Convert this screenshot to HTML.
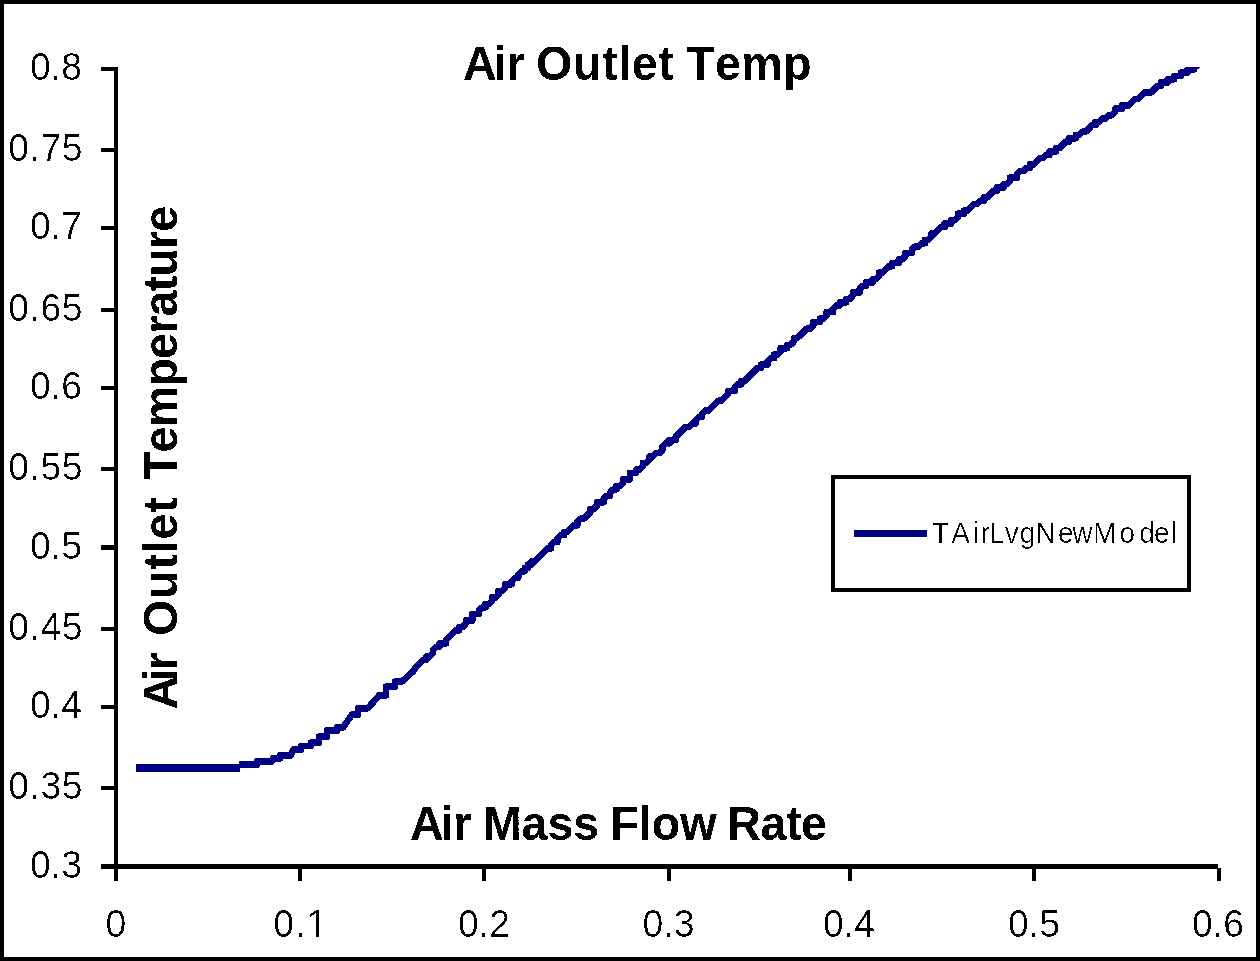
<!DOCTYPE html>
<html lang="en">
<head>
<meta charset="utf-8">
<title>Air Outlet Temp</title>
<style>
html,body{margin:0;padding:0;background:#fff;}
body{width:1260px;height:961px;overflow:hidden;}
svg{display:block;}
.txt{font-kerning:none;}
</style>
</head>
<body>
<svg width="1260" height="961" viewBox="0 0 1260 961">
<rect x="0" y="0" width="1260" height="961" fill="#fff"/>
<g shape-rendering="crispEdges" fill="#000">
<rect x="0" y="0" width="1260" height="4"/><rect x="0" y="957" width="1260" height="4"/>
<rect x="0" y="0" width="4" height="961"/><rect x="1256" y="0" width="4" height="961"/>
<rect x="114" y="67" width="4" height="814"/>
<rect x="101" y="864" width="1117" height="5"/>
<rect x="101" y="67" width="14" height="4"/>
<rect x="101" y="148" width="14" height="4"/>
<rect x="101" y="226" width="14" height="4"/>
<rect x="101" y="308" width="14" height="4"/>
<rect x="101" y="386" width="14" height="4"/>
<rect x="101" y="467" width="14" height="4"/>
<rect x="101" y="545" width="14" height="5"/>
<rect x="101" y="627" width="14" height="4"/>
<rect x="101" y="705" width="14" height="4"/>
<rect x="101" y="786" width="14" height="4"/>
<rect x="298" y="864" width="4" height="17"/>
<rect x="482" y="864" width="4" height="17"/>
<rect x="667" y="864" width="4" height="17"/>
<rect x="848" y="864" width="4" height="17"/>
<rect x="1032" y="864" width="4" height="17"/>
<rect x="1217" y="868" width="4" height="13"/>
<rect x="831" y="475" width="360" height="4"/><rect x="831" y="588" width="360" height="4"/>
<rect x="831" y="475" width="4" height="117"/><rect x="1187" y="475" width="4" height="117"/>
</g>
<rect x="854" y="530" width="73" height="7" fill="#000080" shape-rendering="crispEdges"/>
<rect x="136" y="764" width="104" height="8" fill="#000080" shape-rendering="crispEdges"/>
<defs><filter id="bw" filterUnits="userSpaceOnUse" x="0" y="0" width="1260" height="961" color-interpolation-filters="sRGB"><feComponentTransfer><feFuncA type="discrete" tableValues="0 0 0 0 0 1 1 1 1 1"/></feComponentTransfer></filter><filter id="bwt" filterUnits="userSpaceOnUse" x="0" y="0" width="1260" height="961" color-interpolation-filters="sRGB"><feComponentTransfer><feFuncA type="discrete" tableValues="0 0 0 0 0 0 0 1 1 1"/></feComponentTransfer></filter><clipPath id="no1foot"><path clip-rule="evenodd" d="M255 890H345V950H255Z M304 931.5H315.6V941H304Z M319.6 931.5H330V941H319.6Z"/></clipPath><clipPath id="plot"><rect x="118" y="67" width="1110" height="797"/></clipPath></defs>
<polyline clip-path="url(#plot)" points="239,764.5 257,764.5 257,761.5 272,761.5 273,758.3 280,758.3 280,755.5 291,755.5 293,749.6 301,749.6 301,746 311,746 311,742.6 319,742.6 319,736.7 327,736.7 327,730.5 337,730.5 337,727.5 343,727.5 351,716 352,714.5 358,714.5 358,708.3 367.6,708.3 378,697 379,695.3 386,695.3 386,686.7 395,686.7 395,681.7 401.7,681.7 413,671.5 416.6,666.3 419.8,663.1 423.1,659.8 426.4,659.8 426.4,656.5 429.7,656.5 433,653.2 433,649.9 436.2,646.7 439.5,646.7 439.5,643.4 446.1,643.4 446.1,640.1 449.4,636.8 452.6,633.5 455.9,630.3 459.2,630.3 459.2,627 462.5,627 465.8,623.7 465.8,620.4 472.3,620.4 472.3,613.9 478.9,613.9 478.9,610.6 482.2,607.3 485.4,607.3 485.4,604 488.7,604 492,600.7 492,597.5 495.3,597.5 498.6,594.2 498.6,590.9 501.8,590.9 505.1,587.6 505.1,584.3 511.7,584.3 511.7,581.1 515,577.8 518.2,577.8 518.2,574.5 521.5,571.2 524.8,571.2 524.8,567.9 528.1,567.9 528.1,564.7 531.4,564.7 531.4,561.4 534.6,561.4 537.9,558.1 541.2,554.8 544.5,551.5 547.8,548.3 551,548.3 551,545 554.3,541.7 557.6,541.7 557.6,538.4 560.9,535.1 564.2,535.1 564.2,531.9 567.4,531.9 570.7,528.6 574,525.3 577.3,525.3 577.3,522 580.6,518.7 583.8,518.7 587.1,515.5 590.4,512.2 590.4,508.9 593.7,508.9 597,505.6 597,502.3 603.5,502.3 603.5,499.1 606.8,495.8 610.1,495.8 610.1,492.5 613.4,489.2 616.6,489.2 616.6,485.9 619.9,485.9 623.2,482.7 623.2,479.4 629.8,479.4 629.8,472.8 636.3,472.8 636.3,469.5 639.6,469.5 642.9,466.3 642.9,463 646.2,463 649.4,459.7 649.4,456.4 652.7,456.4 656,453.1 659.3,453.1 662.6,449.9 662.6,446.6 665.8,443.3 669.1,440 669.1,443.3 672.4,440 675.7,440 675.7,436.7 679,433.5 682.2,430.2 685.5,426.9 688.8,426.9 692.1,423.6 695.4,423.6 695.4,420.3 698.6,417.1 701.9,417.1 701.9,413.8 705.2,410.5 708.5,410.5 711.8,407.2 715,403.9 718.3,400.7 721.6,400.7 724.9,397.4 728.2,394.1 728.2,390.8 734.7,390.8 734.7,387.5 738,384.3 741.3,384.3 741.3,381 744.6,381 747.8,377.7 751.1,374.4 754.4,371.1 757.7,367.9 761,367.9 761,364.6 767.5,364.6 767.5,361.3 770.8,358 774.1,358 774.1,354.7 777.4,354.7 780.6,351.5 780.6,348.2 787.2,348.2 787.2,344.9 790.5,344.9 793.8,341.6 793.8,338.3 797,338.3 800.3,335.1 803.6,331.8 806.9,328.5 810.2,328.5 813.4,325.2 813.4,321.9 820,321.9 820,318.7 823.3,318.7 826.6,315.4 826.6,312.1 829.8,312.1 833.1,308.8 833.1,312.1 833.1,308.8 836.4,305.5 839.7,305.5 839.7,302.3 846.2,302.3 846.2,299 849.5,299 852.8,295.7 852.8,292.4 859.4,292.4 859.4,289.1 862.6,285.9 865.9,285.9 865.9,282.6 872.5,282.6 872.5,279.3 875.8,279.3 879,276 879,272.7 882.3,272.7 885.6,269.5 888.9,266.2 892.2,266.2 892.2,262.9 898.7,262.9 898.7,259.6 902,259.6 905.3,256.3 905.3,253.1 911.8,253.1 911.8,249.8 915.1,246.5 918.4,246.5 921.7,243.2 925,243.2 925,239.9 928.2,239.9 931.5,236.7 931.5,233.4 934.8,233.4 938.1,230.1 941.4,226.8 944.6,226.8 944.6,223.5 951.2,223.5 951.2,220.3 954.5,220.3 957.8,217 957.8,213.7 964.3,213.7 964.3,210.4 967.6,210.4 970.9,207.1 974.2,203.9 977.4,203.9 980.7,200.6 984,200.6 984,197.3 987.3,197.3 990.6,194 993.8,190.7 997.1,190.7 997.1,187.5 1003.7,187.5 1003.7,184.2 1007,184.2 1010.2,180.9 1010.2,177.6 1016.8,177.6 1016.8,174.3 1020.1,171.1 1023.4,171.1 1026.6,167.8 1029.9,167.8 1029.9,164.5 1033.2,164.5 1036.5,161.2 1039.8,157.9 1043,157.9 1046.3,154.7 1049.6,154.7 1049.6,151.4 1056.2,151.4 1056.2,148.1 1059.4,148.1 1062.7,144.8 1066,141.5 1069.3,141.5 1069.3,138.3 1075.8,138.3 1075.8,135 1079.1,135 1082.4,131.7 1085.7,131.7 1089,128.4 1092.2,125.1 1095.5,125.1 1095.5,121.9 1098.8,121.9 1102.1,118.6 1105.4,118.6 1108.6,115.3 1111.9,115.3 1115.2,112 1115.2,108.7 1121.8,108.7 1121.8,105.5 1128.3,105.5 1131.6,102.2 1134.9,98.9 1138.2,98.9 1141.4,95.6 1144.7,92.3 1151.3,92.3 1154.6,89.1 1157.8,85.8 1161.1,85.8 1161.1,82.5 1167.7,82.5 1167.7,79.2 1174.2,79.2 1174.2,75.9 1180.8,75.9 1180.8,72.7 1184.1,72.7 1187.4,69.4 1187.4,72.7 1187.4,69.4 1193.9,69.4 1193.9,66.1 1197.2,66.1 1200.5,62.8 1203.8,59.5" fill="none" stroke="#000080" stroke-width="6.6" stroke-linejoin="round" stroke-linecap="butt" shape-rendering="crispEdges"/>
<g class="txt" filter="url(#bwt)" font-family="'Liberation Sans', Arial, Helvetica, sans-serif" fill="#000">
<g font-size="37.33" text-anchor="end">
<text transform="translate(82 80) scale(1 1.04)">0.8</text>
<text transform="translate(83 161) scale(1 1.04)" letter-spacing="0.5">0.75</text>
<text transform="translate(82 239) scale(1 1.04)">0.7</text>
<text transform="translate(83 321) scale(1 1.04)" letter-spacing="0.5">0.65</text>
<text transform="translate(82 399) scale(1 1.04)">0.6</text>
<text transform="translate(83 480) scale(1 1.04)" letter-spacing="0.5">0.55</text>
<text transform="translate(82 558.5) scale(1 1.04)">0.5</text>
<text transform="translate(83 640) scale(1 1.04)" letter-spacing="0.5">0.45</text>
<text transform="translate(82 718) scale(1 1.04)">0.4</text>
<text transform="translate(83 799) scale(1 1.04)" letter-spacing="0.5">0.35</text>
<text transform="translate(82 878) scale(1 1.04)">0.3</text>
</g>
<g font-size="37.33" text-anchor="middle">
<text transform="translate(116 937) scale(1 1.04)">0</text>
<g clip-path="url(#no1foot)"><text transform="translate(300.55 937) scale(1 1.04)" letter-spacing="0.9">0.1</text></g>
<text transform="translate(484 937) scale(1 1.04)">0.2</text>
<text transform="translate(668.5 937) scale(1 1.04)">0.3</text>
<text transform="translate(849 937) scale(1 1.04)">0.4</text>
<text transform="translate(1034 937) scale(1 1.04)">0.5</text>
<text transform="translate(1218 937) scale(1 1.04)">0.6</text>
</g>
<text transform="translate(932.0 543) scale(1 1.04)" dx="0 1 2 0 -2 -1 0 -1 1 -2.5 -0.5 2 3 -2 0" font-size="28" letter-spacing="1.16">TAirLvgNewModel</text>
</g>
<g class="txt" filter="url(#bw)" font-weight="bold" font-size="46.67" font-family="'Liberation Sans', Arial, Helvetica, sans-serif" fill="#000">
<text transform="translate(0 80) scale(1 1.04)"><tspan x="462.9" dx="0 -2 1.5" letter-spacing="-1.35">Air</tspan> <tspan x="536.0" letter-spacing="0.61">Outlet</tspan> <tspan x="686.1" letter-spacing="0.30">Temp</tspan></text>
<text transform="translate(0 840) scale(1 1.04)"><tspan x="409.9" dx="0 -2 1.5" letter-spacing="-1.44">Air</tspan> <tspan x="482.7" letter-spacing="-0.06">Mass</tspan> <tspan x="610.2">Flow</tspan> <tspan x="727.2" letter-spacing="-0.42">Rate</tspan></text>
<text transform="translate(177 0) rotate(-90) scale(1 1.04)"><tspan x="-709.5" dx="0 -2 1.5" letter-spacing="-3.60">Air</tspan> <tspan x="-636.0" letter-spacing="0.79">Outlet</tspan> <tspan x="-480.1" letter-spacing="-0.83">Temperature</tspan></text>
</g>
</svg>
</body>
</html>
